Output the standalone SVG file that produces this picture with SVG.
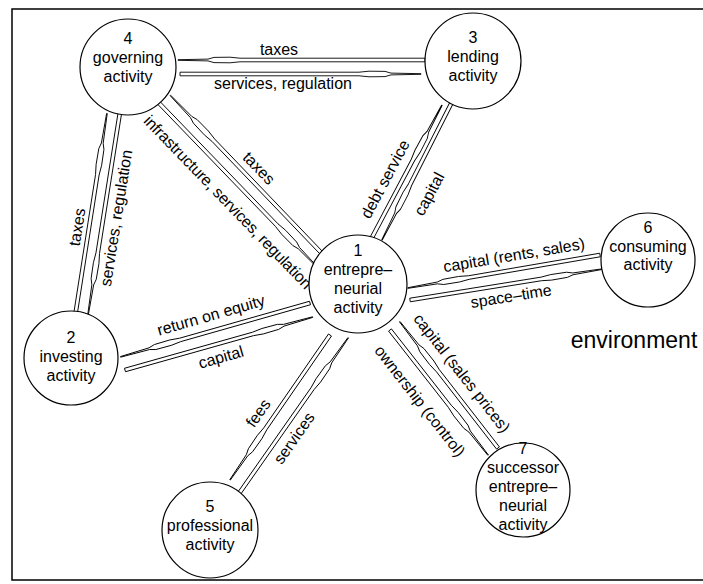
<svg xmlns="http://www.w3.org/2000/svg" width="703" height="584" viewBox="0 0 703 584">
<style>
.bg{fill:#fff}
.frame{fill:none;stroke:#000;stroke-width:1.5}
.node circle{fill:#fff;stroke:#000;stroke-width:1.2}
text{font-family:"Liberation Sans",Arial,sans-serif;font-size:16px;fill:#000}
.nt{text-anchor:middle}
.lbl{text-anchor:middle}
.bar{fill:#fff;stroke:#000;stroke-width:0.9;stroke-linejoin:round}
.env{font-size:23px}
</style>
<rect class="bg" x="0" y="0" width="703" height="584"/>
<path class="frame" d="M703,9 H12 V580 H703"/>
<g id="connectors">
  <g transform="translate(425,60) rotate(180)"><path class="bar" d="M0,-1.8 L185,-1.8 L195,-2.8 L211,-2.6 L217,-0.9 L247,-0.3 L247,0.3 L217,0.9 L211,2.6 L195,2.8 L185,1.8 L0,1.8 Z"/></g>
  <g transform="translate(180,74)"><path class="bar" d="M0,-1.8 L179,-1.8 L189,-2.8 L205,-2.6 L211,-0.9 L241,-0.3 L241,0.3 L211,0.9 L205,2.6 L189,2.8 L179,1.8 L0,1.8 Z"/></g>
  <g transform="translate(75,317) rotate(-81.08)"><path class="bar" d="M0,-1.8 L144,-1.8 L154,-2.8 L170,-2.6 L176,-0.9 L206,-0.3 L206,0.3 L176,0.9 L170,2.6 L154,2.8 L144,1.8 L0,1.8 Z"/></g>
  <g transform="translate(120,112) rotate(98.96)"><path class="bar" d="M0,-1.8 L143,-1.8 L153,-2.8 L169,-2.6 L175,-0.9 L205,-0.3 L205,0.3 L175,0.9 L169,2.6 L153,2.8 L143,1.8 L0,1.8 Z"/></g>
  <g transform="translate(333,265) rotate(-133.8)"><path class="bar" d="M0,-1.8 L173,-1.8 L183,-2.8 L199,-2.6 L205,-0.9 L235,-0.3 L235,0.3 L205,0.9 L199,2.6 L183,2.8 L173,1.8 L0,1.8 Z"/></g>
  <g transform="translate(158,102) rotate(46.04)"><path class="bar" d="M0,-1.8 L171,-1.8 L181,-2.8 L197,-2.6 L203,-0.9 L233,-0.3 L233,0.3 L203,0.9 L197,2.6 L181,2.8 L171,1.8 L0,1.8 Z"/></g>
  <g transform="translate(368,245) rotate(-62.14)"><path class="bar" d="M0,-1.8 L96,-1.8 L106,-2.8 L122,-2.6 L128,-0.9 L158,-0.3 L158,0.3 L128,0.9 L122,2.6 L106,2.8 L96,1.8 L0,1.8 Z"/></g>
  <g transform="translate(453,100) rotate(116.9)"><path class="bar" d="M0,-1.8 L95,-1.8 L105,-2.8 L121,-2.6 L127,-0.9 L157,-0.3 L157,0.3 L127,0.9 L121,2.6 L105,2.8 L95,1.8 L0,1.8 Z"/></g>
  <g transform="translate(600,255) rotate(170.25)"><path class="bar" d="M0,-1.8 L133,-1.8 L143,-2.8 L159,-2.6 L165,-0.9 L195,-0.3 L195,0.3 L165,0.9 L159,2.6 L143,2.8 L133,1.8 L0,1.8 Z"/></g>
  <g transform="translate(410,300) rotate(-9.12)"><path class="bar" d="M0,-1.8 L133,-1.8 L143,-2.8 L159,-2.6 L165,-0.9 L195,-0.3 L195,0.3 L165,0.9 L159,2.6 L143,2.8 L133,1.8 L0,1.8 Z"/></g>
  <g transform="translate(310,303) rotate(164.13)"><path class="bar" d="M0,-1.8 L135,-1.8 L145,-2.8 L161,-2.6 L167,-0.9 L197,-0.3 L197,0.3 L167,0.9 L161,2.6 L145,2.8 L135,1.8 L0,1.8 Z"/></g>
  <g transform="translate(125,370) rotate(-15.74)"><path class="bar" d="M0,-1.8 L133,-1.8 L143,-2.8 L159,-2.6 L165,-0.9 L195,-0.3 L195,0.3 L165,0.9 L159,2.6 L143,2.8 L133,1.8 L0,1.8 Z"/></g>
  <g transform="translate(330,335) rotate(124.6)"><path class="bar" d="M0,-1.8 L114,-1.8 L124,-2.8 L140,-2.6 L146,-0.9 L176,-0.3 L176,0.3 L146,0.9 L140,2.6 L124,2.8 L114,1.8 L0,1.8 Z"/></g>
  <g transform="translate(238,495) rotate(-54.98)"><path class="bar" d="M0,-1.8 L130,-1.8 L140,-2.8 L156,-2.6 L162,-0.9 L192,-0.3 L192,0.3 L162,0.9 L156,2.6 L140,2.8 L130,1.8 L0,1.8 Z"/></g>
  <g transform="translate(498,448) rotate(-127.87)"><path class="bar" d="M0,-1.8 L98,-1.8 L108,-2.8 L124,-2.6 L130,-0.9 L160,-0.3 L160,0.3 L130,0.9 L124,2.6 L108,2.8 L98,1.8 L0,1.8 Z"/></g>
  <g transform="translate(390,330) rotate(51.9)"><path class="bar" d="M0,-1.8 L97,-1.8 L107,-2.8 L123,-2.6 L129,-0.9 L159,-0.3 L159,0.3 L129,0.9 L123,2.6 L107,2.8 L97,1.8 L0,1.8 Z"/></g>

  <text class="lbl" x="279" y="55">taxes</text>
  <text class="lbl" x="283" y="89">services, regulation</text>
  <text class="lbl" transform="translate(77,227) rotate(-81)" dy="0.35em">taxes</text>
  <text class="lbl" transform="translate(116,218) rotate(-81)" dy="0.35em">services, regulation</text>
  <text class="lbl" transform="translate(259,168) rotate(46)" dy="0.35em">taxes</text>
  <text class="lbl" transform="translate(228,202) rotate(46)" dy="0.35em" textLength="234" lengthAdjust="spacing">infrastructure, services, regulation</text>
  <text class="lbl" transform="translate(385,179) rotate(-62)" dy="0.35em">debt service</text>
  <text class="lbl" transform="translate(429,194) rotate(-62)" dy="0.35em">capital</text>
  <text class="lbl" transform="translate(514,255) rotate(-9.5)" dy="0.35em">capital (rents, sales)</text>
  <text class="lbl" transform="translate(511,296) rotate(-9)" dy="0.35em">space–time</text>
  <text class="lbl" transform="translate(211,315) rotate(-16)" dy="0.35em">return on equity</text>
  <text class="lbl" transform="translate(221,357) rotate(-16)" dy="0.35em">capital</text>
  <text class="lbl" transform="translate(258,413) rotate(-55)" dy="0.35em">fees</text>
  <text class="lbl" transform="translate(294,438) rotate(-55)" dy="0.35em">services</text>
  <text class="lbl" transform="translate(462,373) rotate(52)" dy="0.35em">capital (sales prices)</text>
  <text class="lbl" transform="translate(420,401) rotate(52)" dy="0.35em">ownership (control)</text>
</g>
<g id="node1" class="node">
  <circle cx="358" cy="284" r="49"/>
  <text class="nt" x="358" y="256">1</text>
  <text class="nt" x="358" y="275">entrepre–</text>
  <text class="nt" x="358" y="294">neurial</text>
  <text class="nt" x="358" y="313">activity</text>
</g>
<g id="node2" class="node">
  <circle cx="71" cy="358" r="47"/>
  <text class="nt" x="71" y="343">2</text>
  <text class="nt" x="71" y="362">investing</text>
  <text class="nt" x="71" y="381">activity</text>
</g>
<g id="node3" class="node">
  <circle cx="473" cy="61" r="48"/>
  <text class="nt" x="473" y="43">3</text>
  <text class="nt" x="473" y="62">lending</text>
  <text class="nt" x="473" y="81">activity</text>
</g>
<g id="node4" class="node">
  <circle cx="128" cy="67" r="48"/>
  <text class="nt" x="128" y="44">4</text>
  <text class="nt" x="128" y="63">governing</text>
  <text class="nt" x="128" y="82">activity</text>
</g>
<g id="node5" class="node">
  <circle cx="210" cy="530" r="48"/>
  <text class="nt" x="210" y="512">5</text>
  <text class="nt" x="210" y="531">professional</text>
  <text class="nt" x="210" y="550">activity</text>
</g>
<g id="node6" class="node">
  <circle cx="648" cy="260" r="47"/>
  <text class="nt" x="648" y="233">6</text>
  <text class="nt" x="648" y="252">consuming</text>
  <text class="nt" x="648" y="270">activity</text>
</g>
<g id="node7" class="node">
  <circle cx="523" cy="490" r="47"/>
  <text class="nt" x="523" y="454">7</text>
  <text class="nt" x="523" y="473">successor</text>
  <text class="nt" x="523" y="492">entrepre–</text>
  <text class="nt" x="523" y="511">neurial</text>
  <text class="nt" x="523" y="530">activity</text>
</g>
<text class="env" x="634" y="348" text-anchor="middle">environment</text>
</svg>
